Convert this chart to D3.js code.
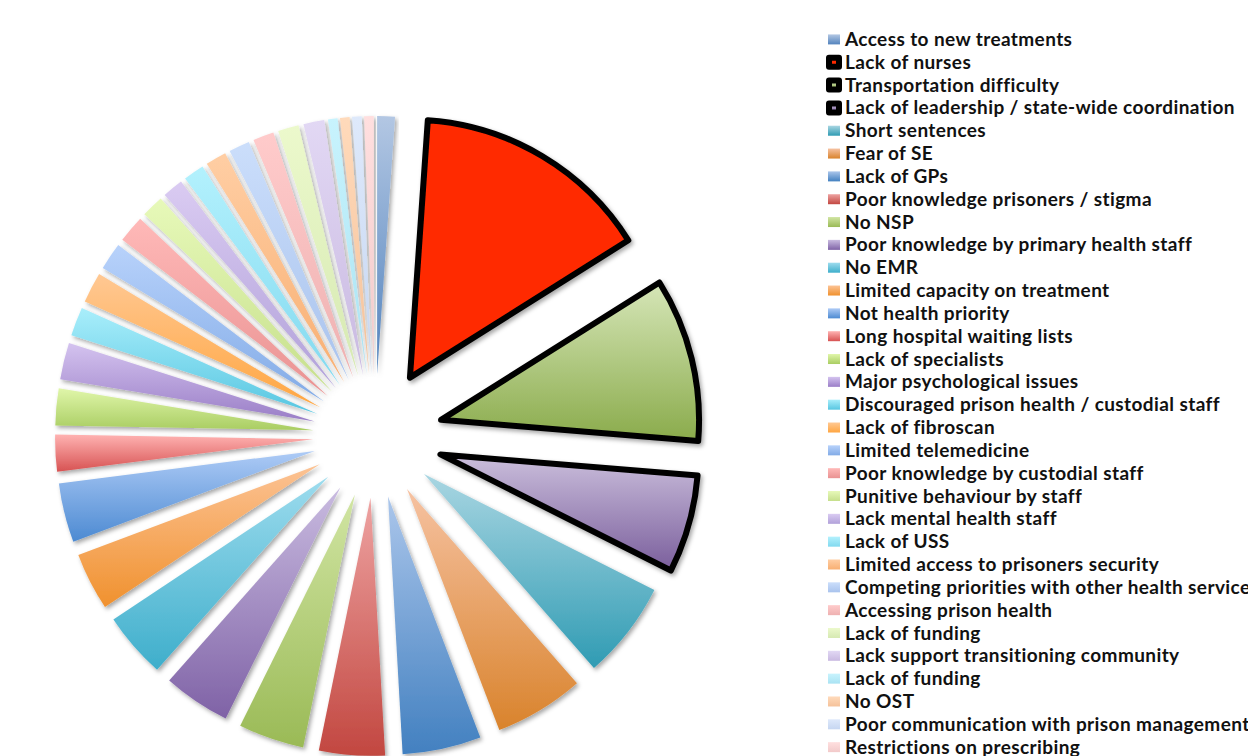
<!DOCTYPE html>
<html>
<head>
<meta charset="utf-8">
<script src="https://cdn.jsdelivr.net/npm/d3@7"></script>
<style>
  html, body { margin: 0; padding: 0; background: #fff; overflow: hidden; }
  svg { display: block; }
  .legend text { font-family: Lato, "Open Sans", sans-serif; font-weight: 700; font-size: 19px; letter-spacing: 0.4px; fill: #111; }
</style>
</head>
<body>
<svg id="chart" width="1248" height="756"></svg>
<script>
// Barriers to care, share of responses (%), in drawing order starting at 12 o'clock
const categories = [
  "Access to new treatments",
  "Lack of nurses",
  "Transportation difficulty",
  "Lack of leadership / state-wide coordination",
  "Short sentences",
  "Fear of SE",
  "Lack of GPs",
  "Poor knowledge prisoners / stigma",
  "No NSP",
  "Poor knowledge by primary health staff",
  "No EMR",
  "Limited capacity on treatment",
  "Not health priority",
  "Long hospital waiting lists",
  "Lack of specialists",
  "Major psychological issues",
  "Discouraged prison health / custodial staff",
  "Lack of fibroscan",
  "Limited telemedicine",
  "Poor knowledge by custodial staff",
  "Punitive behaviour by staff",
  "Lack mental health staff",
  "Lack of USS",
  "Limited access to prisoners security",
  "Competing priorities with other health services",
  "Accessing prison health",
  "Lack of funding",
  "Lack support transitioning community",
  "Lack of funding",
  "No OST",
  "Poor communication with prison management",
  "Restrictions on prescribing"
];

const shares = [
  1.1, 14.9, 10.2, 6.1, 6.1, 5.6, 4.9, 4.1, 4.1, 4.2, 4.1, 3.6, 3.7, 2.3, 2.3, 2.3,
  1.8, 1.9, 1.7, 1.7, 1.4, 1.3, 1.3, 1.3, 1.3, 1.3, 1.3, 1.3, 0.6, 0.6, 0.6, 0.6
];

// Slices pulled out with a heavy outline
const emphasised = [false, true, true, true, false, false, false, false, false, false, false, false, false, false, false, false,
                    false, false, false, false, false, false, false, false, false, false, false, false, false, false, false, false];

// Gradient stops (top, bottom) for every slice
const topColors = [
  "#b3c7e3", "#ff2a00", "#d6e6b8", "#cbbfdc", "#a9d6e2", "#f6c2a2", "#abc6eb", "#eea3a2",
  "#d1e5a3", "#c9bbe0", "#9ddcee", "#fcc395", "#aecbf6", "#ffb3b2", "#e0f6aa", "#d4c3ef",
  "#a9eefb", "#ffc893", "#b8d2fb", "#ffb9b8", "#e7f9b9", "#dacbf2", "#b3f1fd", "#ffcea4",
  "#cbdefb", "#ffcbcb", "#ecf9cc", "#e2d8f4", "#c8f3fd", "#ffdabb", "#dee9fb", "#ffdfdf"
];
const bottomColors = [
  "#5283bd", "#ff2a00", "#8aab4b", "#7a5e9c", "#2f9bb3", "#d9832c", "#4280c0", "#c24740",
  "#9aba56", "#7f62a6", "#3eaecb", "#f0912e", "#4c8ad2", "#d75252", "#a9cd62", "#9a7ec7",
  "#57c6e1", "#ffa641", "#82abe6", "#e99292", "#c6df8c", "#b1a1d9", "#82d9ef", "#f8af72",
  "#a9c3ed", "#eeb1b1", "#d6e9b2", "#c9b9e1", "#aae3f3", "#f5c29a", "#c6d6f1", "#f2caca"
];

const width = 1248, height = 756;
const cx = 375, cy = 436;
const radius = 258;
const explode = 62;
const explodeEmphasised = 68;

const svg = d3.select("#chart");
const defs = svg.append("defs");

// Soft shadow under each slice
const shadow = defs.append("filter")
  .attr("id", "sliceShadow")
  .attr("x", "-20%").attr("y", "-20%")
  .attr("width", "140%").attr("height", "140%");
shadow.append("feDropShadow")
  .attr("dx", 2).attr("dy", 2.5)
  .attr("stdDeviation", 2.2)
  .attr("flood-color", "#000")
  .attr("flood-opacity", 0.35);

// One vertical gradient per slice, reused by its legend key
categories.forEach((c, i) => {
  const g = defs.append("linearGradient")
    .attr("id", "grad" + i)
    .attr("x1", 0).attr("y1", 0).attr("x2", 0).attr("y2", 1);
  g.append("stop").attr("offset", "0%").attr("stop-color", topColors[i]);
  g.append("stop").attr("offset", "100%").attr("stop-color", bottomColors[i]);
});

const pie = d3.pie().sort(null).value(d => d).startAngle(0).endAngle(2 * Math.PI);
const arc = d3.arc().innerRadius(0).outerRadius(radius);
const arcs = pie(shares);

const pieG = svg.append("g").attr("transform", `translate(${cx},${cy})`);

// Plain slices first, outlined ones on top
const order = arcs.map((a, i) => i).sort((a, b) => (emphasised[a] ? 1 : 0) - (emphasised[b] ? 1 : 0));

pieG.selectAll("path.slice")
  .data(order.map(i => ({ a: arcs[i], i })))
  .join("path")
  .attr("class", "slice")
  .attr("d", d => arc(d.a))
  .attr("transform", d => {
    const mid = (d.a.startAngle + d.a.endAngle) / 2;
    const e = emphasised[d.i] ? explodeEmphasised : explode;
    return `translate(${e * Math.sin(mid)},${-e * Math.cos(mid)})`;
  })
  .attr("fill", d => `url(#grad${d.i})`)
  .attr("stroke", d => emphasised[d.i] ? "#000" : "none")
  .attr("stroke-width", d => emphasised[d.i] ? 6 : 0)
  .attr("stroke-linejoin", "round")
  .attr("filter", "url(#sliceShadow)");

// Legend
const legendX = 828, legendY0 = 39.4, legendStep = 22.83;
const legend = svg.append("g").attr("class", "legend");
const items = legend.selectAll("g.item")
  .data(categories.map((c, i) => ({ c, i })))
  .join("g")
  .attr("class", "item")
  .attr("transform", d => `translate(${legendX},${legendY0 + d.i * legendStep})`);

items.append("rect")
  .attr("x", d => emphasised[d.i] ? 1 : 0)
  .attr("y", d => emphasised[d.i] ? -4.5 : -5)
  .attr("width", d => emphasised[d.i] ? 10 : 12)
  .attr("height", d => emphasised[d.i] ? 9 : 10)
  .attr("fill", d => `url(#grad${d.i})`)
  .attr("stroke", d => emphasised[d.i] ? "#000" : "none")
  .attr("stroke-width", d => emphasised[d.i] ? 6 : 0)
  .attr("stroke-linejoin", "round");

items.append("text")
  .attr("x", 17)
  .attr("y", 6.6)
  .text(d => d.c);
</script>
</body>
</html>
